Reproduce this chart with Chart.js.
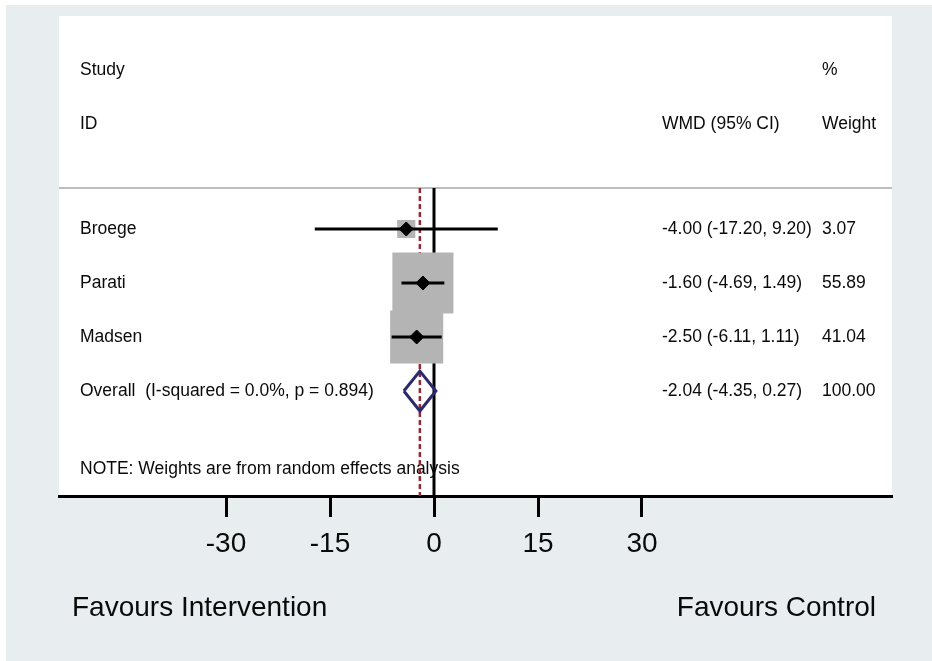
<!DOCTYPE html>
<html>
<head>
<meta charset="utf-8">
<title>Forest plot</title>
<script src="https://cdn.jsdelivr.net/npm/chart.js@4.4.1/dist/chart.umd.min.js"></script>
<style>
  body { margin: 0; background: #fff; }
  #wrap { position: relative; width: 932px; height: 661px; }
</style>
</head>
<body>
<div id="wrap"><canvas id="forestChart"></canvas></div>
<script>
// datos del forest plot
const studies = ['Broege', 'Parati', 'Madsen'];
const wmd = [-4.00, -1.60, -2.50];
const ciLow = [-17.20, -4.69, -6.11];
const ciHigh = [9.20, 1.49, 1.11];
const weights = [3.07, 55.89, 41.04];
const overallWmd = -2.04;
const overallCi = [-4.35, 0.27];
const overallWeight = 100.00;
const heterogeneity = 'I-squared = 0.0%, p = 0.894';
const xTicks = [-30, -15, 0, 15, 30];
const leftLabel = 'Favours Intervention';
const rightLabel = 'Favours Control';

const FONT = '"Liberation Sans", Arial, sans-serif';
const overallRow = studies.length;

function ciText(e, lo, hi) {
    return `${e.toFixed(2)} (${lo.toFixed(2)}, ${hi.toFixed(2)})`;
}

// fondo, textos y lineas de referencia
const forestDecor = {
    id: 'forestDecor',
    beforeDraw(chart) {
        const { ctx, chartArea: a, width, height } = chart;
        ctx.save();
        ctx.fillStyle = '#ffffff';
        ctx.fillRect(0, 0, width, height);
        ctx.fillStyle = '#e8eef0';
        ctx.fillRect(6, 5, width - 6, height - 5);
        ctx.fillStyle = '#ffffff';
        ctx.fillRect(a.left, a.top, a.right - a.left, a.bottom - a.top);
        ctx.restore();
    },
    beforeDatasetsDraw(chart) {
        const { ctx, chartArea: a, scales: { x, y } } = chart;
        const sepY = y.getPixelForValue(-0.76);
        ctx.save();

        // separador gris
        ctx.strokeStyle = '#bdbdbd';
        ctx.lineWidth = 2;
        ctx.beginPath();
        ctx.moveTo(a.left, sepY);
        ctx.lineTo(a.right, sepY);
        ctx.stroke();

        // textos
        ctx.fillStyle = '#0a0a0a';
        ctx.font = '17.5px ' + FONT;
        ctx.textBaseline = 'middle';
        ctx.textAlign = 'left';
        const colStudy = a.left + 21;
        const colWmd = a.right - 230;
        const colW = a.right - 70;
        ctx.fillText('Study', colStudy, y.getPixelForValue(-2.95));
        ctx.fillText('ID', colStudy, y.getPixelForValue(-1.95));
        ctx.fillText('%', colW, y.getPixelForValue(-2.95));
        ctx.fillText('WMD (95% CI)', colWmd, y.getPixelForValue(-1.95));
        ctx.fillText('Weight', colW, y.getPixelForValue(-1.95));
        studies.forEach((s, i) => {
            const py = y.getPixelForValue(i);
            ctx.fillText(s, colStudy, py);
            ctx.fillText(ciText(wmd[i], ciLow[i], ciHigh[i]), colWmd, py);
            ctx.fillText(weights[i].toFixed(2), colW, py);
        });
        const oy = y.getPixelForValue(overallRow);
        ctx.fillText('Overall  (' + heterogeneity + ')', colStudy, oy);
        ctx.fillText(ciText(overallWmd, overallCi[0], overallCi[1]), colWmd, oy);
        ctx.fillText(overallWeight.toFixed(2), colW, oy);
        ctx.fillText('NOTE: Weights are from random effects analysis', colStudy, y.getPixelForValue(overallRow + 1.44));

        // linea del cero
        const x0 = x.getPixelForValue(0);
        ctx.strokeStyle = '#000';
        ctx.lineWidth = 3;
        ctx.beginPath();
        ctx.moveTo(x0, sepY);
        ctx.lineTo(x0, a.bottom);
        ctx.stroke();

        // linea del efecto global
        const xo = x.getPixelForValue(overallWmd);
        ctx.strokeStyle = '#8e2b37';
        ctx.lineWidth = 2.5;
        ctx.setLineDash([5, 3]);
        ctx.beginPath();
        ctx.moveTo(xo, sepY);
        ctx.lineTo(xo, a.bottom);
        ctx.stroke();
        ctx.restore();
    },
    afterDraw(chart) {
        const { ctx, chartArea: a } = chart;
        ctx.save();
        ctx.fillStyle = '#0a0a0a';
        ctx.font = '28px ' + FONT;
        ctx.textBaseline = 'middle';
        ctx.textAlign = 'left';
        ctx.fillText(leftLabel, a.left + 13, a.bottom + 112);
        ctx.textAlign = 'right';
        ctx.fillText(rightLabel, a.right - 16, a.bottom + 112);
        ctx.restore();
    }
};

const boxData = studies.map((s, i) => ({ x: wmd[i], y: i }));

const ciSets = studies.map((s, i) => ({
    type: 'line',
    label: s + ' IC',
    order: 2,
    data: [{ x: ciLow[i], y: i }, { x: ciHigh[i], y: i }],
    borderColor: '#000',
    borderWidth: 3,
    pointRadius: 0,
    borderCapStyle: 'butt'
}));

const diamondH = 0.37;

new Chart(document.getElementById('forestChart'), {
    type: 'scatter',
    data: {
        datasets: [
            {
                label: 'Peso',
                order: 3,
                data: boxData,
                pointStyle: 'rect',
                pointRadius: (c) => 7.5 * Math.sqrt(weights[c.dataIndex]) / Math.SQRT2,
                pointBackgroundColor: '#b4b4b4',
                pointBorderColor: '#b4b4b4',
                pointBorderWidth: 5
            },
            ...ciSets,
            {
                label: 'WMD',
                order: 1,
                data: boxData,
                pointStyle: 'rectRot',
                pointRadius: 7,
                pointBackgroundColor: '#000',
                pointBorderColor: '#000',
                pointBorderWidth: 1
            },
            {
                type: 'line',
                label: 'Overall',
                order: 0,
                data: [
                    { x: overallCi[0], y: overallRow },
                    { x: overallWmd, y: overallRow - diamondH },
                    { x: overallCi[1], y: overallRow },
                    { x: overallWmd, y: overallRow + diamondH },
                    { x: overallCi[0], y: overallRow }
                ],
                borderColor: '#2c2a6c',
                borderWidth: 3,
                borderJoinStyle: 'miter',
                pointRadius: 0,
                fill: false,
                tension: 0
            }
        ]
    },
    options: {
        responsive: true,
        maintainAspectRatio: false,
        animation: false,
        layout: { autoPadding: false, padding: { left: 59, right: 40, top: 16, bottom: 0 } },
        plugins: {
            legend: { display: false },
            tooltip: { enabled: false }
        },
        scales: {
            x: {
                type: 'linear',
                min: -54.09,
                max: 66.06,
                afterBuildTicks: (s) => { s.ticks = xTicks.map(v => ({ value: v })); },
                afterFit: (s) => { s.height = 165; },
                border: { display: true, color: '#000', width: 3 },
                grid: { drawOnChartArea: false, drawTicks: true, tickLength: 21, tickWidth: 3, tickColor: '#000' },
                ticks: {
                    color: '#0a0a0a',
                    padding: 10,
                    autoSkip: false,
                    maxRotation: 0,
                    font: { family: FONT, size: 28 }
                }
            },
            y: {
                type: 'linear',
                display: false,
                reverse: true,
                min: -3.944,
                max: 4.944
            }
        }
    },
    plugins: [forestDecor]
});
</script>
</body>
</html>
